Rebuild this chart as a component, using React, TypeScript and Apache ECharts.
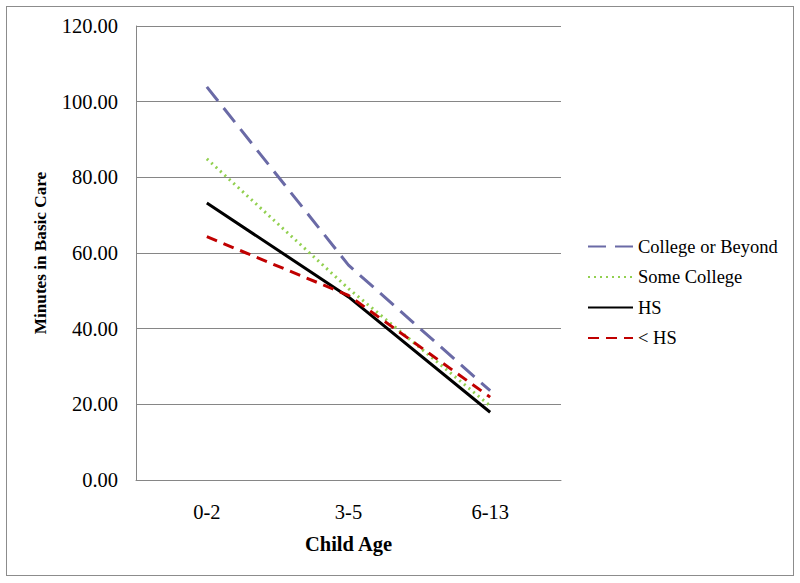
import React, { useEffect, useRef } from "react";
import * as echarts from "echarts";

const categories = ["0-2", "3-5", "6-13"];
const collegeOrBeyond = [103.9, 56.8, 23.6];
const someCollege = [84.9, 50.6, 19.6];
const hs = [73.2, 48.4, 17.9];
const lessThanHs = [64.3, 48.8, 21.9];
const yTicks = { min: 0, max: 120, interval: 20 };

const FONT = "Liberation Serif, Times New Roman, serif";

export default function App() {
  const ref = useRef<HTMLDivElement>(null);
  useEffect(() => {
    if (!ref.current) return;
    const chart = echarts.init(ref.current, null, { renderer: "svg" });
    const mk = (name: string, data: number[], color: string, type: any, width = 3) => ({
      name,
      type: "line",
      data,
      symbol: "none",
      lineStyle: { color, width, type, cap: "butt" },
      itemStyle: { color },
    });
    chart.setOption({
      animation: false,
      textStyle: { fontFamily: FONT },
      grid: { left: 136, right: 239, top: 26, bottom: 103 },
      xAxis: {
        type: "category",
        data: categories,
        boundaryGap: true,
        name: "Child Age",
        nameLocation: "middle",
        nameGap: 53,
        nameTextStyle: { fontFamily: FONT, fontSize: 20.5, fontWeight: "bold", color: "#000" },
        axisLine: { lineStyle: { color: "#868686", width: 1 } },
        axisTick: { show: false },
        axisLabel: { fontFamily: FONT, fontSize: 20.5, color: "#000", margin: 21 },
      },
      yAxis: {
        type: "value",
        min: yTicks.min,
        max: yTicks.max,
        interval: yTicks.interval,
        name: "Minutes in Basic Care",
        nameLocation: "middle",
        nameGap: 87,
        nameTextStyle: { fontFamily: FONT, fontSize: 17.2, fontWeight: "bold", color: "#000" },
        axisLine: { show: true, lineStyle: { color: "#868686", width: 1 } },
        axisTick: { show: false },
        splitLine: { lineStyle: { color: "#868686", width: 1 } },
        axisLabel: {
          fontFamily: FONT,
          fontSize: 20.5,
          color: "#000",
          margin: 18,
          formatter: (v: number) => v.toFixed(2),
        },
      },
      legend: {
        orient: "vertical",
        left: 582,
        top: 232,
        itemWidth: 45,
        itemHeight: 14,
        itemGap: 11.5,
        itemStyle: { opacity: 0 },
        textStyle: { fontFamily: FONT, fontSize: 18.5, color: "#000" },
        data: ["College or Beyond", "Some College", "HS", "< HS"],
      },
      series: [
        mk("College or Beyond", collegeOrBeyond, "#6a6aa6", [18, 9]),
        mk("Some College", someCollege, "#92d050", [2, 4]),
        mk("HS", hs, "#000000", "solid"),
        mk("< HS", lessThanHs, "#c00000", [11, 7]),
      ],
    });
    return () => chart.dispose();
  }, []);
  return (
    <div style={{ position: "absolute", left: 0, top: 0, width: 800, height: 583, background: "#fff" }}>
      <div
        style={{
          position: "absolute",
          left: 6,
          top: 6,
          width: 786,
          height: 568,
          border: "1px solid #8c8c8c",
        }}
      />
      <div ref={ref} style={{ position: "absolute", left: 0, top: 0, width: 800, height: 583 }} />
    </div>
  );
}
